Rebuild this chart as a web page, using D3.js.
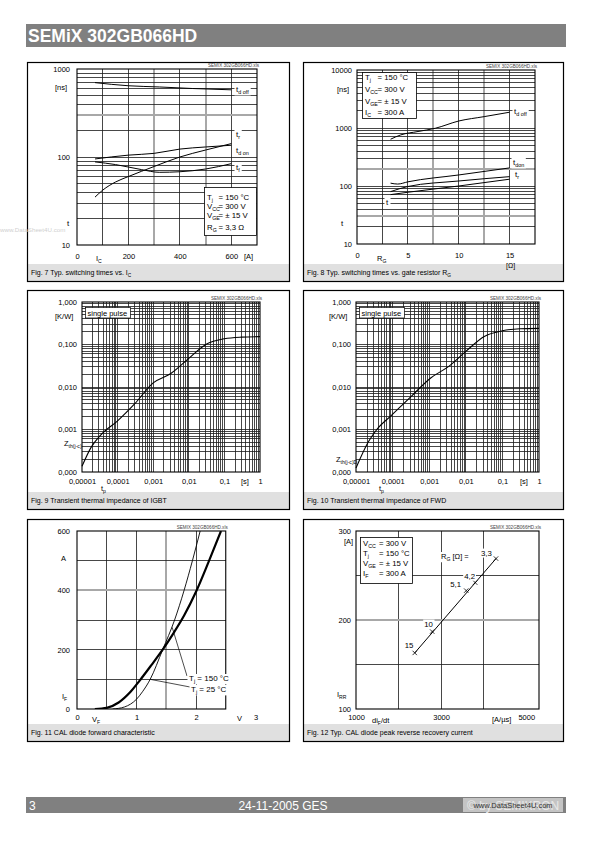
<!DOCTYPE html>
<html><head><meta charset="utf-8">
<script src="https://cdn.jsdelivr.net/npm/d3@7"></script>
<style>body{margin:0;background:#fff}</style>
</head><body>
<svg id="page" width="595" height="842" xmlns="http://www.w3.org/2000/svg"></svg>
<script>
// ---------------- DATA ----------------
const title = "SEMiX 302GB066HD";
const footerPage = "3", footerDate = "24-11-2005  GES";

// Fig 7: switching times vs Ic  [A, ns]
const f7_tdoff = [[70,700],[200,645],[320,625],[450,600],[600,580]];
const f7_tdon  = [[70,95],[200,105],[300,110],[400,123],[500,130],[600,136]];
const f7_tr    = [[70,35],[100,42],[150,52],[200,60],[300,78],[400,100],[500,120],[600,142]];
const f7_tf    = [[70,88],[150,82],[250,72],[320,67],[400,68],[500,73],[600,84]];
const f7_xTicks = [0,200,400,600], f7_yTicks = [10,100,1000];

// Fig 8: switching times vs RG  [Ohm, ns]
const f8_tdoff = [[3.3,640],[4.3,760],[6,870],[7.7,990],[10,1320],[12.5,1570],[15,1870]];
const f8_tdon  = [[3.3,112],[4,108],[5,118],[10,155],[15,205]];
const f8_tr    = [[3.3,80],[5,98],[10,122],[15,145]];
const f8_tf    = [[3.3,71],[5,78],[10,100],[15,131]];
const f8_xTicks = [0,5,10,15], f8_yTicks = [10,100,1000,10000];

// Fig 9 / 10: transient thermal impedance [s, K/W]
const f9_igbt = [[1e-5,1.36e-4],[1.8e-5,3.8e-4],[3.4e-5,7.5e-4],[1e-4,1.6e-3],[3e-4,4e-3],[1e-3,0.0125],[3.2e-3,0.021],[1e-2,0.047],[3e-2,0.1],[0.1,0.137],[0.3,0.149],[1,0.153]];
const f10_fwd = [[1e-5,1.24e-4],[2.2e-5,5.2e-4],[3.7e-5,1e-3],[9.6e-5,2.2e-3],[3.4e-4,6.3e-3],[1.1e-3,0.0163],[3.5e-3,0.031],[1e-2,0.069],[3.2e-2,0.155],[0.1,0.21],[0.3,0.235],[1,0.24]];
const zth_xTicks = [1e-5,1e-4,1e-3,1e-2,1e-1,1];
const zth_xLabels = ["0,00001","0,0001","0,001","0,01","0,1","1"];
const zth_yTicks = [1e-4,1e-3,1e-2,1e-1,1];
const zth_yLabels = ["0,000","0,001","0,010","0,100","1,000"];

// Fig 11: diode forward characteristic [V, A]
const f11_150 = [[0.3,0],[0.5,4],[0.7,22],[0.9,58],[1.05,95],[1.25,148],[1.44,200],[1.62,255],[1.8,315],[2.0,395],[2.21,495],[2.42,600]];
const f11_25  = [[0.6,0],[0.8,7],[1.0,33],[1.1,58],[1.23,100],[1.44,200],[1.64,300],[1.8,400],[1.94,500],[2.07,600]];
const f11_xTicks = [0,1,2,3], f11_yTicks = [0,200,400,600];

// Fig 12: peak reverse recovery current [A/us, A]
const f12_rg   = ["15","10","5,1","4,2","3,3"];
const f12_didt = [2380,2790,3590,3800,4290];
const f12_irr  = [163,187,233,242,269];
const f12_xTicks = [1000,3000,5000], f12_yTicks = [100,200,300];

// ---------------- HELPERS ----------------
const FONT = '"Liberation Sans", Arial, Helvetica, sans-serif';
const svg = d3.select("#page");

function rich(g, x, y, parts, size, anchor, fill){
  const t = g.append("text").attr("x",x).attr("y",y).attr("font-size",size)
    .attr("text-anchor",anchor||"start").attr("fill",fill||"#000").attr("font-family",FONT);
  let low=false;
  parts.forEach(p=>{
    const sub = Array.isArray(p);
    const s = t.append("tspan").text(sub?p[0]:p);
    if(sub){ s.attr("font-size",size*0.68); if(!low){ s.attr("dy",size*0.3); low=true; } }
    else if(low){ s.attr("dy",-size*0.3); low=false; }
  });
  return t;
}
function withBg(g, t, pad){
  const b = t.node().getBBox(); pad = pad||1;
  g.insert("rect", function(){return t.node();}).attr("x",b.x-pad).attr("y",b.y).attr("width",b.width+2*pad).attr("height",b.height).attr("fill","#fff");
}
function panel(px,py,pw,ph,capTop,parts){
  const g = svg.append("g");
  g.append("rect").attr("x",px+0.5).attr("y",capTop).attr("width",pw-1).attr("height",py+ph-capTop-0.5).attr("fill","#e0e0e0");
  g.append("rect").attr("x",px+0.5).attr("y",py+0.5).attr("width",pw-1).attr("height",ph-1)
    .attr("fill","none").attr("stroke","#000").attr("stroke-width",1.2);
  rich(g, px+4, capTop+11, parts, 7);
  return g;
}
function logVals(min,max){
  const out=[];
  for(let e=Math.floor(Math.log10(min)); e<=Math.ceil(Math.log10(max)); e++)
    for(let m=1;m<=9;m++){ const v=+(m*Math.pow(10,e)).toPrecision(6); if(v>min*1.0001 && v<max*0.9999) out.push(v); }
  return out;
}
function grid(g,x,y,xv,yv,xGray,yGray){
  const [x0,x1]=x.range(), [y0,y1]=y.range();
  const gg = g.append("g").attr("shape-rendering","crispEdges");
  xv.forEach(v=>{ const gray=xGray.includes(v);
    gg.append("line").attr("x1",x(v)).attr("x2",x(v)).attr("y1",y0).attr("y2",y1)
      .attr("stroke",gray?"#a8a8a8":"#1a1a1a").attr("stroke-width",gray?2:0.8); });
  yv.forEach(v=>{ const gray=yGray.includes(v);
    gg.append("line").attr("x1",x0).attr("x2",x1).attr("y1",y(v)).attr("y2",y(v))
      .attr("stroke",gray?"#a8a8a8":"#1a1a1a").attr("stroke-width",gray?2:0.8); });
}
function frame(g,x,y){
  const [x0,x1]=x.range(), [y0,y1]=y.range();
  g.append("rect").attr("x",x0).attr("y",y1).attr("width",x1-x0).attr("height",y0-y1)
    .attr("fill","none").attr("stroke","#000").attr("stroke-width",1.1);
  g.append("text").attr("x",x1+2).attr("y",y1-2.5).attr("text-anchor","end").attr("font-size",4.6)
    .attr("fill","#444").attr("font-family",FONT).text("SEMIX 302GB066HD.xls");
}
function axes(g,x,y,xt,xf,yt,yf,xpad,ypad){
  const [x0]=x.range(), [y0]=y.range();
  const ax = g.append("g").attr("transform",`translate(0,${y0})`)
    .call(d3.axisBottom(x).tickValues(xt).tickSize(0).tickPadding(xpad).tickFormat(xf));
  ax.select(".domain").remove();
  ax.attr("font-size",7.5).attr("font-family",FONT);
  const ay = g.append("g").attr("transform",`translate(${x0},0)`)
    .call(d3.axisLeft(y).tickValues(yt).tickSize(0).tickPadding(ypad).tickFormat(yf));
  ay.select(".domain").remove();
  ay.attr("font-size",7.5).attr("font-family",FONT);
}
function curve(g,x,y,data,w,cv){
  g.append("path").datum(data).attr("fill","none").attr("stroke","#000").attr("stroke-width",w||1)
    .attr("d", d3.line().x(d=>x(d[0])).y(d=>y(d[1])).curve(cv||d3.curveMonotoneX));
}
function legend(g,bx,by,bw,bh,rows,eqX){
  g.append("rect").attr("x",bx+0.5).attr("y",by+0.5).attr("width",bw).attr("height",bh)
    .attr("fill","#fff").attr("stroke","#000").attr("stroke-width",0.8);
  rows.forEach(r=>{ rich(g,bx+3,r[0],r[1],7.8); g.append("text").attr("x",eqX).attr("y",r[0])
    .attr("font-size",7.8).attr("font-family",FONT).text(r[2]); });
}
const txt=(g,x,y,parts,size,anchor)=>rich(g,x,y,parts,size||7.5,anchor);

// ---------------- PAGE HEADER / FOOTER ----------------
svg.append("rect").attr("x",26).attr("y",24).attr("width",540).attr("height",23).attr("fill","#808080");
svg.append("text").attr("x",28).attr("y",42).attr("font-size",17.5).attr("font-weight","bold")
  .attr("fill","#fff").attr("font-family",FONT).text(title);
svg.append("rect").attr("x",26).attr("y",797).attr("width",540).attr("height",16).attr("fill","#808080");
svg.append("text").attr("x",29).attr("y",810).attr("font-size",12).attr("fill","#fff").attr("font-family",FONT).text(footerPage);
svg.append("text").attr("x",283).attr("y",810).attr("font-size",12).attr("text-anchor","middle").attr("fill","#fff").attr("font-family",FONT).text(footerDate);
svg.append("rect").attr("x",463).attr("y",798).attr("width",100).attr("height",14).attr("fill","#c4c4c4");
svg.append("text").attr("x",467).attr("y",810).attr("font-size",12).attr("fill","#e8e8e8").attr("font-family",FONT).text("© by SEMIKRON");
svg.append("text").attr("x",513).attr("y",808).attr("font-size",7.5).attr("text-anchor","middle").attr("fill","#333").attr("font-family",FONT).text("www.DataSheet4U.com");

// ---------------- FIG 7 ----------------
{
  const g = panel(27,62,263,220,264,["Fig. 7 Typ. switching times vs. I",["C"]]);
  const x = d3.scaleLinear().domain([0,700]).range([77,257]);
  const y = d3.scaleLog().domain([10,1000]).range([245,69]);
  grid(g,x,y,[100,200,300,400,500,600],logVals(10,1000),[300,500],[300]);
  frame(g,x,y);
  [f7_tdoff,f7_tdon,f7_tr,f7_tf].forEach(d=>curve(g,x,y,d,1));
  axes(g,x,y,f7_xTicks,d3.format("d"),f7_yTicks,d3.format("d"),9,7);
  [[92,["t",["d off"]]],[137,["t",["r"]]],[153,["t",["d on"]]],[170,["t",["f"]]]].forEach(l=>{
    const t = txt(g,236,l[0],l[1],8); withBg(g,t,1.5); });
  txt(g,96,261,["I",["C"]]); txt(g,244,259,["[A]"]);
  txt(g,55,90,["[ns]"]); txt(g,67,226,["t"],8);
  legend(g,204,187,52,48,[[199.5,["T",["j"]],"= 150 °C"],[208.5,["V",["CC"]],"= 300 V"],[218,["V",["GE"]],"= ± 15 V"],[229.5,["R",["G"]],"= 3,3 Ω"]],218.5);
  svg.append("text").attr("x",0).attr("y",232).attr("font-size",6.2).attr("fill","#cfcfcf").attr("font-family",FONT).text("www.DataSheet4U.com");
}

// ---------------- FIG 8 ----------------
{
  const g = panel(303,62,261,220,264,["Fig. 8 Typ. switching times vs. gate resistor R",["G"]]);
  const x = d3.scaleLinear().domain([0,17.5]).range([357,535]);
  const y = d3.scaleLog().domain([10,10000]).range([244,70]);
  grid(g,x,y,[2.5,5,7.5,10,12.5,15],logVals(10,10000),[7.5,12.5],[30,200]);
  frame(g,x,y);
  [f8_tdoff,f8_tdon,f8_tr,f8_tf].forEach(d=>curve(g,x,y,d,1));
  axes(g,x,y,f8_xTicks,d3.format("d"),f8_yTicks,d3.format("d"),9,5);
  [[514,114,["t",["d off"]]],[513,165,["t",["don"]]],[515,177,["t",["r"]]],[386,205,["t"]]].forEach(l=>{
    const t = txt(g,l[0],l[1],l[2],8); withBg(g,t,1.5); });
  txt(g,377,261,["R",["G"]]); txt(g,506,267.5,["[Ω]"],7);
  txt(g,337,92,["[ns]"]); txt(g,341,226,["t"],8);
  legend(g,362,72,54,46,[[80,["T",["j"]],"= 150 °C"],[92,["V",["CC"]],"= 300 V"],[103.5,["V",["GE"]],"= ± 15 V"],[114.5,["I",["C"]],"= 300 A"]],377.5);
}

// ---------------- FIG 9 / 10 ----------------
function zthChart(px,cap,x0,x1,data,zLabel,zPos,tpX){
  const g = panel(px,290,px<100?263:261,220,492,cap);
  const x = d3.scaleLog().domain([1e-5,1]).range([x0,x1]);
  const y = d3.scaleLog().domain([1e-4,1]).range([472,302]);
  grid(g,x,y,logVals(1e-5,1),logVals(1e-4,1),[],[]);
  frame(g,x,y);
  curve(g,x,y,data,1.1);
  axes(g,x,y,zth_xTicks,(d,i)=>zth_xLabels[i],zth_yTicks,(d,i)=>zth_yLabels[i],6.5,5);
  g.append("rect").attr("x",x0+3.5).attr("y",307.5).attr("width",45).attr("height",10.5)
    .attr("fill","#fff").attr("stroke","#000").attr("stroke-width",0.7);
  txt(g,x0+5.5,315.5,["single pulse"]);
  txt(g,x0-27,319,["[K/W]"]);
  txt(g,zPos[0],zPos[1],zLabel,7.5);
  txt(g,tpX,491,["t",["p"]]);
  txt(g,x1-19,484,["[s]"]);
}
zthChart(27,["Fig. 9 Transient thermal impedance of IGBT"],82,260,f9_igbt,["Z",["th(j-c)"]],[64,446],101);
zthChart(303,["Fig. 10 Transient thermal impedance of FWD"],356,539,f10_fwd,["Z",["th(j-c)D"]],[336,462],379);

// ---------------- FIG 11 ----------------
{
  const g = panel(27,519,263,223,724,["Fig. 11 CAL diode forward characteristic"]);
  const x = d3.scaleLinear().domain([0,2.5]).range([77,225.75]);
  const y = d3.scaleLinear().domain([0,600]).range([709,531]);
  grid(g,x,y,[0.5,1,1.5,2],[100,200,300,400,500],[1.5],[400]);
  frame(g,x,y);
  g.append("clipPath").attr("id","c11").append("rect").attr("x",77).attr("y",531).attr("width",148.75).attr("height",178);
  const cg = g.append("g").attr("clip-path","url(#c11)");
  curve(cg,x,y,f11_25,0.9);
  curve(cg,x,y,f11_150,2.2);
  axes(g,x,y,f11_xTicks,d3.format("d"),f11_yTicks,d3.format("d"),6,7);
  g.append("line").attr("x1",x(1.6)).attr("y1",y(275)).attr("x2",187).attr("y2",676).attr("stroke","#000").attr("stroke-width",0.7);
  g.append("line").attr("x1",x(1.23)).attr("y1",y(100)).attr("x2",190).attr("y2",687).attr("stroke","#000").attr("stroke-width",0.7);
  const a = txt(g,189,681,["T",["j"]," = 150 °C"],8); withBg(g,a,1.5);
  const b = txt(g,191,692,["T",["j"]," = 25 °C"],8); withBg(g,b,1.5);
  txt(g,61,561,["A"]); txt(g,62,699,["I",["F"]]);
  txt(g,92,722,["V",["F"]]); txt(g,237,721,["V"]);
}

// ---------------- FIG 12 ----------------
{
  const g = panel(303,519,261,223,724,["Fig. 12 Typ. CAL diode peak reverse recovery current"]);
  const x = d3.scaleLinear().domain([1000,5300]).range([356,539]);
  const y = d3.scaleLinear().domain([100,300]).range([709,531]);
  grid(g,x,y,[2000,3000,4000],[150,200,250],[],[200]);
  frame(g,x,y);
  const pts = f12_didt.map((d,i)=>[d,f12_irr[i]]);
  curve(g,x,y,[pts[0],pts[pts.length-1]],1,d3.curveLinear);
  pts.forEach(p=>{ const cx=x(p[0]), cy=y(p[1]);
    g.append("path").attr("d",`M${cx-2.2},${cy-2.2}L${cx+2.2},${cy+2.2}M${cx-2.2},${cy+2.2}L${cx+2.2},${cy-2.2}`)
      .attr("stroke","#000").attr("stroke-width",0.8); });
  axes(g,x,y,f12_xTicks,d3.format("d"),f12_yTicks,d3.format("d"),6,5);
  const offs = [[-10,-5],[-8,-5],[-16,-4],[-11,-4],[-15,-3]];
  pts.forEach((p,i)=>{ const t = txt(g,x(p[0])+offs[i][0],y(p[1])+offs[i][1],[f12_rg[i]],7.8,"start"); withBg(g,t,1); });
  const rl = txt(g,441,559,["R",["G"]," [Ω] ="],7.5); withBg(g,rl,1);
  txt(g,344,544,["[A]"]); txt(g,337,697,["I",["RR"]]);
  txt(g,372,723,["di",["F"],"/dt"]); txt(g,492,722,["[A/µs]"]);
  legend(g,360,537,52,46,[[545.5,["V",["CC"]],"= 300 V"],[555.5,["T",["j"]],"= 150 °C"],[565.5,["V",["GE"]],"= ± 15 V"],[576,["I",["F"]],"= 300 A"]],379);
}
</script>
</body></html>
